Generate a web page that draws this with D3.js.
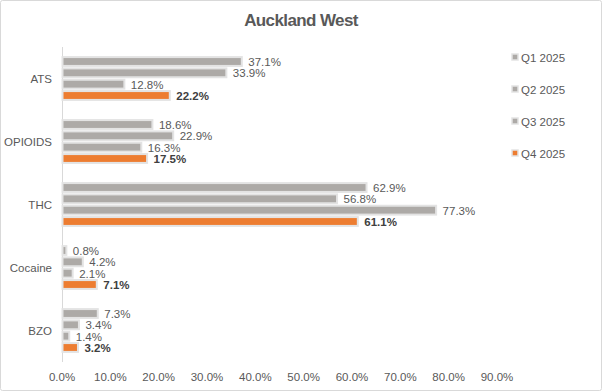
<!DOCTYPE html>
<html><head><meta charset="utf-8">
<script src="https://cdn.jsdelivr.net/npm/d3@7"></script>
<style>body{margin:0;background:#fff}svg{display:block}</style>
</head><body>
<svg id="c" width="602" height="391"></svg>
<script>
const categories = ["ATS","OPIOIDS","THC","Cocaine","BZO"];
const seriesNames = ["Q1 2025","Q2 2025","Q3 2025","Q4 2025"];
const q1 = [37.1, 18.6, 62.9, 0.8, 7.3];
const q2 = [33.9, 22.9, 56.8, 4.2, 3.4];
const q3 = [12.8, 16.3, 77.3, 2.1, 1.4];
const q4 = [22.2, 17.5, 61.1, 7.1, 3.2];
const xTicks = [0,10,20,30,40,50,60,70,80,90];
const series = [q1,q2,q3,q4];
const colors = ["#ADAAA7","#ADAAA7","#ADAAA7","#ED7D31"];
const font = "'Liberation Sans', Arial, sans-serif";

const svg = d3.select("#c");
svg.append("rect").attr("x",0.5).attr("y",0.5).attr("width",601).attr("height",390)
  .attr("fill","#fff").attr("stroke","#d9d9d9").attr("stroke-width",1).attr("rx",2);

svg.append("text").attr("x",301).attr("y",26).attr("text-anchor","middle")
  .attr("font-family",font).attr("font-size",17).attr("font-weight","bold")
  .attr("letter-spacing","-0.6").attr("fill","#595959").text("Auckland West");

const x = d3.scaleLinear().domain([0,90]).range([62,497]);
const y = d3.scaleBand().domain(categories).range([47,362]).paddingInner(0.32).paddingOuter(0.16);
const yi = d3.scaleBand().domain(d3.range(4)).range([0,y.bandwidth()]).paddingInner(0.22);

// axis line
svg.append("line").attr("x1",62.5).attr("x2",62.5).attr("y1",47).attr("y2",362)
  .attr("stroke","#d9d9d9").attr("stroke-width",1);

const g = svg.append("g");
categories.forEach((c,ci)=>{
  series.forEach((s,si)=>{
    const v = s[ci];
    const by = y(c)+yi(si);
    g.append("rect").attr("x",x(0)+0.5).attr("y",by)
      .attr("width",x(v)-x(0)).attr("height",yi.bandwidth())
      .attr("fill",colors[si]).attr("stroke","#e3e3e3").attr("stroke-width",2);
    g.append("text").attr("x",x(v)+7).attr("y",by+yi.bandwidth()/2+4.5)
      .attr("font-family",font).attr("font-size",11.5)
      .attr("font-weight",si===3?"bold":"normal")
      .attr("fill",si===3?"#404040":"#595959")
      .text(v.toFixed(1)+"%");
  });
  svg.append("text").attr("x",52).attr("y",y(c)+y.bandwidth()/2+4)
    .attr("text-anchor","end").attr("font-family",font).attr("font-size",11.5)
    .attr("fill","#595959").text(c);
});

// x axis ticks
svg.append("g").selectAll("text").data(xTicks).join("text")
  .attr("x",d=>x(d)).attr("y",381).attr("text-anchor","middle")
  .attr("font-family",font).attr("font-size",11.5).attr("fill","#595959")
  .text(d=>d.toFixed(1)+"%");

// legend
const ly = [57,89,121,153];
seriesNames.forEach((n,i)=>{
  svg.append("rect").attr("x",512).attr("y",ly[i]-3).attr("width",6).attr("height",6)
    .attr("fill",colors[i]).attr("stroke","#e3e3e3").attr("stroke-width",1.5);
  svg.append("text").attr("x",521).attr("y",ly[i]+4.5).attr("font-family",font)
    .attr("font-size",11.5).attr("fill","#595959").text(n);
});
</script>
</body></html>
